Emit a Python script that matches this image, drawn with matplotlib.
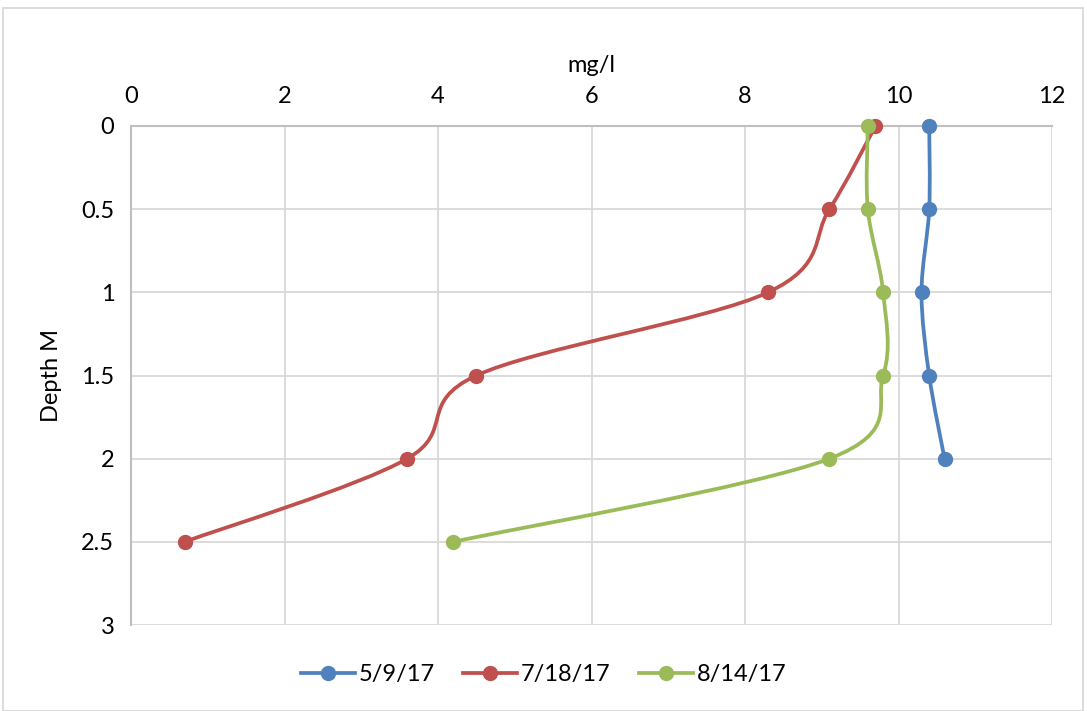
import matplotlib
matplotlib.use("Agg")
import matplotlib.pyplot as plt
from matplotlib.path import Path
from matplotlib.patches import PathPatch, Rectangle
from matplotlib.lines import Line2D

plt.rcParams['font.family'] = ['Lato', 'DejaVu Sans']

# data
depths = [0, 0.5, 1, 1.5, 2, 2.5]
may_9 = [10.4, 10.4, 10.3, 10.4, 10.6]
jul_18 = [9.7, 9.1, 8.3, 4.5, 3.6, 0.7]
aug_14 = [9.6, 9.6, 9.8, 9.8, 9.1, 4.2]
labels = ['5/9/17', '7/18/17', '8/14/17']
colors = ['#4f81bd', '#c0504d', '#9bbb59']
x_ticks = [0, 2, 4, 6, 8, 10, 12]
y_ticks = [0, 0.5, 1, 1.5, 2, 2.5, 3]
y_tick_labels = ['0', '0.5', '1', '1.5', '2', '2.5', '3']


def smooth_path(xs, ys):
    # Excel-style smoothed line: cubic Bezier through each point
    pts = list(zip(xs, ys))
    n = len(pts)
    verts = [pts[0]]
    codes = [Path.MOVETO]
    for i in range(n - 1):
        p0 = pts[i - 1] if i > 0 else pts[i]
        p1 = pts[i]
        p2 = pts[i + 1]
        p3 = pts[i + 2] if i + 2 < n else pts[i + 1]
        c1 = (p1[0] + (p2[0] - p0[0]) / 6, p1[1] + (p2[1] - p0[1]) / 6)
        c2 = (p2[0] - (p3[0] - p1[0]) / 6, p2[1] - (p3[1] - p1[1]) / 6)
        verts += [c1, c2, p2]
        codes += [Path.CURVE4] * 3
    return Path(verts, codes)


fig = plt.figure(figsize=(10.87, 7.11), dpi=100)
ax = fig.add_axes([131 / 1087, 1 - 625 / 711, (1052 - 131) / 1087, (625 - 126) / 711])

series = [may_9, jul_18, aug_14]
for vals, lab, col in zip(series, labels, colors):
    d = depths[:len(vals)]
    ax.add_patch(PathPatch(smooth_path(vals, d), facecolor='none', edgecolor=col,
                           lw=2.7, capstyle='round', joinstyle='round', zorder=3))
    ax.plot(vals, d, 'o', color=col, ms=10, zorder=4, clip_on=False)

ax.set_xlim(0, 12)
ax.set_ylim(3, 0)
ax.xaxis.tick_top()
ax.xaxis.set_label_position('top')
ax.set_xticks(x_ticks)
ax.set_yticks(y_ticks)
ax.set_yticklabels(y_tick_labels)
ax.tick_params(length=0, labelsize=17, pad=14)
ax.tick_params(axis='y', pad=12)
ax.grid(True, color='#d9d9d9', lw=1.3)
ax.set_axisbelow(True)
for s in ['right', 'bottom']:
    ax.spines[s].set_visible(False)
for s in ['left', 'top']:
    ax.spines[s].set_color('#bfbfbf')
    ax.spines[s].set_linewidth(1.5)

ax.set_xlabel('mg/l', fontsize=17, labelpad=10)
ax.set_ylabel('Depth M', fontsize=17, labelpad=14)

handles = [Line2D([], [], color=c, lw=2.7, marker='o', ms=10) for c in colors]
fig.legend(handles, labels, loc='center', bbox_to_anchor=(0.5, 1 - 675 / 711),
           ncol=3, frameon=False, fontsize=17, handlelength=2.3,
           handletextpad=0.15, columnspacing=1.2)

fig.add_artist(Rectangle((3 / 1087, 0), 1080 / 1087, 1 - 8 / 711,
                         transform=fig.transFigure, fill=False,
                         edgecolor='#d9d9d9', lw=1.3))

fig.savefig('out.png', dpi=100)
